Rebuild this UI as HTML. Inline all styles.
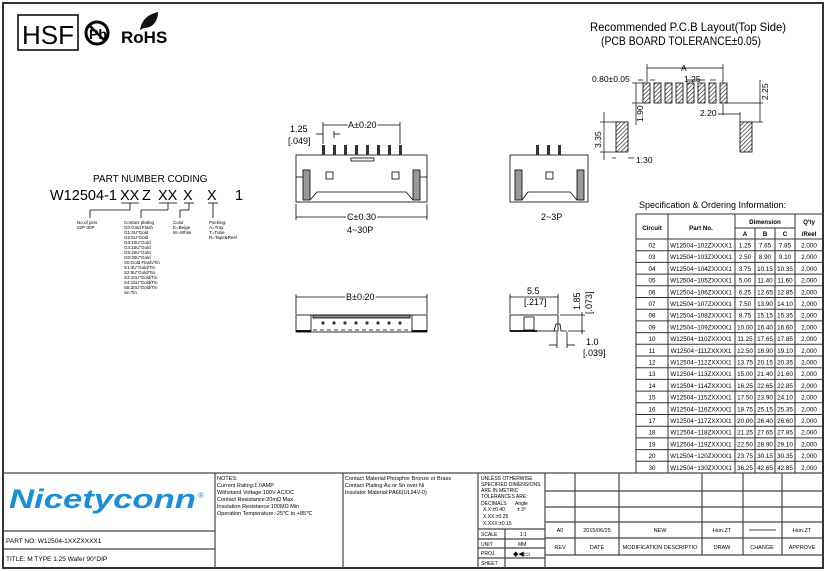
<!DOCTYPE html>
<html><head><meta charset="utf-8"><style>
html,body{margin:0;padding:0;background:#fff}
svg{display:block}
text{font-family:"Liberation Sans",sans-serif;fill:#000}
.s{font-size:6px}
.t{font-size:7px}
.m{font-family:"Liberation Serif",serif;font-size:6px}
</style></head><body>
<svg width="826" height="571" viewBox="0 0 826 571" xmlns="http://www.w3.org/2000/svg">
<defs><pattern id="h" width="3" height="3" patternUnits="userSpaceOnUse" patternTransform="rotate(45)"><rect width="3" height="3" fill="#fff"/><line x1="0" y1="0" x2="0" y2="3" stroke="#222" stroke-width="1.3"/></pattern></defs>
<rect x="3" y="3" width="820" height="565" fill="none" stroke="#333" stroke-width="2"/>
<!-- logos -->
<rect x="18" y="15" width="60" height="35" fill="none" stroke="#000" stroke-width="1.5"/>
<text x="22" y="44" style="font-size:26px">HSF</text>
<circle cx="97" cy="33" r="11" fill="none" stroke="#000" stroke-width="3"/>
<text x="89" y="39" style="font-size:14px;font-weight:bold">Pb</text>
<line x1="89" y1="25" x2="105" y2="41" stroke="#000" stroke-width="2.5"/>
<text x="121" y="43" style="font-size:17px;font-weight:bold">RoHS</text>
<path d="M140 30 C142 18,150 14,158 12 C158 22,152 28,144 28 Z" fill="#111"/>
<!-- PCB layout -->
<text x="590" y="31" style="font-size:12px" textLength="196" lengthAdjust="spacingAndGlyphs">Recommended P.C.B Layout(Top Side)</text>
<text x="601" y="45" style="font-size:12px" textLength="160" lengthAdjust="spacingAndGlyphs">(PCB BOARD TOLERANCE±0.05)</text>
<g fill="url(#h)" stroke="#000" stroke-width="0.8">
<rect x="643" y="83" width="7" height="20"/><rect x="654" y="83" width="7" height="20"/><rect x="665" y="83" width="7" height="20"/><rect x="676" y="83" width="7" height="20"/><rect x="687" y="83" width="7" height="20"/><rect x="698" y="83" width="7" height="20"/><rect x="709" y="83" width="7" height="20"/><rect x="720" y="83" width="7" height="20"/>
<rect x="616" y="122" width="12" height="30"/><rect x="740" y="122" width="12" height="30"/>
</g>
<g stroke="#000" stroke-width="0.7" fill="none">
<line x1="647" y1="68" x2="723" y2="68"/><line x1="647" y1="64" x2="647" y2="82"/><line x1="723" y1="64" x2="723" y2="82"/>
<line x1="638" y1="80" x2="643" y2="80"/><line x1="650" y1="80" x2="655" y2="80"/>
<line x1="686" y1="80" x2="705" y2="80"/><line x1="716" y1="80" x2="710" y2="80"/>
<line x1="727" y1="103" x2="763" y2="103"/><line x1="752" y1="122" x2="763" y2="122"/><line x1="760" y1="80" x2="760" y2="122"/>
<line x1="632" y1="83" x2="643" y2="83"/><line x1="632" y1="103" x2="643" y2="103"/><line x1="636" y1="83" x2="636" y2="125"/>
<line x1="723" y1="104" x2="723" y2="115"/><line x1="740" y1="112" x2="740" y2="122"/><line x1="718" y1="114" x2="740" y2="114"/>
<line x1="600" y1="122" x2="616" y2="122"/><line x1="600" y1="152" x2="616" y2="152"/><line x1="604" y1="112" x2="604" y2="160"/>
<line x1="612" y1="158" x2="616" y2="158"/><line x1="628" y1="158" x2="634" y2="158"/>
</g>
<text x="592" y="82" style="font-size:8.5px">0.80±0.05</text>
<text x="684" y="82" style="font-size:8.5px">1.25</text>
<text x="681" y="71" style="font-size:8.5px">A</text>
<text x="700" y="116" style="font-size:8.5px">2.20</text>
<text x="636" y="163" style="font-size:8.5px">1.30</text>
<text transform="translate(768,100) rotate(-90)" style="font-size:8.5px">2.25</text>
<text transform="translate(643,122) rotate(-90)" style="font-size:8.5px">1.90</text>
<text transform="translate(601,148) rotate(-90)" style="font-size:8.5px">3.35</text>
<!-- Part number coding -->
<text x="93" y="182" style="font-size:10px">PART NUMBER CODING</text>
<g style="font-size:14.5px">
<text x="50" y="200">W12504-1</text><text x="120" y="200">XX</text><text x="142" y="200">Z</text><text x="158" y="200">XX</text><text x="183" y="200">X</text><text x="207" y="200">X</text><text x="235" y="200">1</text>
</g>
<g stroke="#000" stroke-width="0.8" fill="none">
<line x1="121" y1="203" x2="139" y2="203"/><line x1="130" y1="203" x2="130" y2="210"/><line x1="130" y1="210" x2="90" y2="210"/><line x1="90" y1="210" x2="90" y2="218"/>
<line x1="159" y1="203" x2="177" y2="203"/><line x1="168" y1="203" x2="168" y2="210"/><line x1="168" y1="210" x2="141" y2="210"/><line x1="141" y1="210" x2="141" y2="218"/>
<line x1="184" y1="203" x2="194" y2="203"/><line x1="189" y1="203" x2="189" y2="210"/><line x1="189" y1="210" x2="180" y2="210"/><line x1="180" y1="210" x2="180" y2="218"/>
<line x1="208" y1="203" x2="218" y2="203"/><line x1="213" y1="203" x2="213" y2="218"/>
</g>
<g class="s" style="font-size:4.5px">
<text x="77" y="224">No.of pins</text><text x="77" y="229">02P-30P</text>
<text x="124" y="224">Contact plating</text><text x="124" y="229">G0:Gold Flash</text><text x="124" y="234">G1:3U"Gold</text><text x="124" y="239">G2:5U"Gold</text><text x="124" y="244">G3:10U"Gold</text><text x="124" y="249">G4:15U"Gold</text><text x="124" y="254">G5:20U"Gold</text><text x="124" y="259">G6:30U"Gold</text><text x="124" y="264">S0:Gold Flash/Tin</text><text x="124" y="269">S1:3U"Gold/Tin</text><text x="124" y="274">S2:5U"Gold/Tin</text><text x="124" y="279">S3:10U"Gold/Tin</text><text x="124" y="284">S4:15U"Gold/Tin</text><text x="124" y="289">S6:30U"Gold/Tin</text><text x="124" y="294">Sn:Tin</text>
<text x="173" y="224">Color</text><text x="173" y="229">E=Beige</text><text x="173" y="234">W=White</text>
<text x="209" y="224">Packing:</text><text x="209" y="229">A=Tray</text><text x="209" y="234">T=Tube</text><text x="209" y="239">R=Tape&amp;Reel</text>
</g>
<!-- front view 4~30P -->
<g stroke="#000" stroke-width="0.8" fill="none">
<rect x="296" y="155" width="131" height="47"/>
<line x1="296" y1="177" x2="306" y2="177"/><rect x="303" y="170" width="7" height="30" fill="#999"/>
<line x1="427" y1="177" x2="417" y2="177"/><rect x="413" y="170" width="7" height="30" fill="#999"/>
<path d="M310 200 L317 192 L406 192 L413 200"/>
<rect x="326" y="172" width="7" height="7"/><rect x="392" y="172" width="7" height="7"/>
<rect x="351" y="158" width="23" height="3"/>
<line x1="323" y1="122" x2="323" y2="144"/><line x1="400" y1="122" x2="400" y2="144"/><line x1="323" y1="125" x2="400" y2="125"/>
<line x1="316" y1="134" x2="323" y2="134"/><line x1="334" y1="134" x2="340" y2="134"/><line x1="334" y1="131" x2="334" y2="138"/>
<line x1="296" y1="204" x2="296" y2="220"/><line x1="427" y1="204" x2="427" y2="220"/><line x1="296" y1="217" x2="427" y2="217"/>
<rect x="510" y="155" width="78" height="47"/>
<rect x="515" y="170" width="7" height="30" fill="#999"/><rect x="577" y="170" width="7" height="30" fill="#999"/>
<path d="M522 200 L528 192 L570 192 L577 200"/><rect x="546" y="172" width="7" height="7"/>
<rect x="296" y="315" width="131" height="17"/>
<line x1="296" y1="294" x2="296" y2="314"/><line x1="427" y1="294" x2="427" y2="314"/><line x1="296" y1="297" x2="427" y2="297"/>
<line x1="311" y1="315" x2="311" y2="332"/><line x1="412" y1="315" x2="412" y2="332"/>
<rect x="313" y="315" width="97" height="3" fill="#888"/>
<line x1="313" y1="330" x2="410" y2="330" stroke-dasharray="4,3"/>
<line x1="296" y1="331" x2="311" y2="331" stroke-width="1.8"/><line x1="412" y1="331" x2="427" y2="331" stroke-width="1.8"/>
<rect x="510" y="315" width="48" height="16"/><rect x="524" y="317" width="10" height="13"/>
<line x1="510" y1="331" x2="537" y2="331" stroke-width="1.8"/>
<path d="M554 331 L556 324 L560 324 L561 331 L567 331"/>
<line x1="510" y1="294" x2="510" y2="314"/><line x1="558" y1="294" x2="558" y2="314"/><line x1="510" y1="297" x2="558" y2="297"/>
<line x1="560" y1="315" x2="585" y2="315"/><line x1="568" y1="331" x2="585" y2="331"/><line x1="582" y1="312" x2="582" y2="334"/>
<line x1="557" y1="332" x2="557" y2="348"/><line x1="567" y1="332" x2="567" y2="348"/><line x1="549" y1="345" x2="557" y2="345"/><line x1="567" y1="345" x2="575" y2="345"/>
</g>
<g fill="#333">
<rect x="322" y="145" width="3" height="10"/><rect x="333" y="145" width="3" height="10"/><rect x="344" y="145" width="3" height="10"/><rect x="355" y="145" width="3" height="10"/><rect x="366" y="145" width="3" height="10"/><rect x="377" y="145" width="3" height="10"/><rect x="388" y="145" width="3" height="10"/><rect x="399" y="145" width="3" height="10"/>
<rect x="536" y="145" width="3" height="10"/><rect x="547" y="145" width="3" height="10"/><rect x="558" y="145" width="3" height="10"/>
<circle cx="323" cy="323" r="1.6"/><circle cx="334" cy="323" r="1.6"/><circle cx="345" cy="323" r="1.6"/><circle cx="356" cy="323" r="1.6"/><circle cx="367" cy="323" r="1.6"/><circle cx="378" cy="323" r="1.6"/><circle cx="389" cy="323" r="1.6"/><circle cx="400" cy="323" r="1.6"/>
</g>
<g style="font-size:9px">
<text x="348" y="128" fill="#000" stroke="#fff" stroke-width="3" paint-order="stroke">A±0.20</text>
<text x="290" y="132">1.25</text><text x="288" y="144">[.049]</text>
<text x="347" y="220" stroke="#fff" stroke-width="3" paint-order="stroke">C±0.30</text>
<text x="347" y="233">4~30P</text>
<text x="541" y="220">2~3P</text>
<text x="346" y="300" stroke="#fff" stroke-width="3" paint-order="stroke">B±0.20</text>
<text x="527" y="294">5.5</text><text x="524" y="305">[.217]</text>
<text x="586" y="345">1.0</text><text x="583" y="356">[.039]</text>
<text transform="translate(580,310) rotate(-90)">1.85</text>
<text transform="translate(592,314) rotate(-90)">[.073]</text>
</g>
<!-- Spec table -->
<text x="639" y="208" style="font-size:9px">Specification &amp; Ordering Information:</text>
<g stroke="#333" stroke-width="1" fill="none">
<rect x="636" y="214" width="187" height="259"/>
<line x1="668" y1="214" x2="668" y2="473"/><line x1="735" y1="214" x2="735" y2="473"/>
<line x1="755" y1="228" x2="755" y2="473"/><line x1="775" y1="228" x2="775" y2="473"/>
<line x1="795" y1="214" x2="795" y2="473"/>
<line x1="735" y1="228" x2="795" y2="228"/><line x1="636" y1="239" x2="823" y2="239"/>
<line x1="636" y1="250.7" x2="823" y2="250.7"/><line x1="636" y1="262.4" x2="823" y2="262.4"/><line x1="636" y1="274.1" x2="823" y2="274.1"/><line x1="636" y1="285.8" x2="823" y2="285.8"/><line x1="636" y1="297.5" x2="823" y2="297.5"/><line x1="636" y1="309.2" x2="823" y2="309.2"/><line x1="636" y1="320.9" x2="823" y2="320.9"/><line x1="636" y1="332.6" x2="823" y2="332.6"/><line x1="636" y1="344.3" x2="823" y2="344.3"/><line x1="636" y1="356" x2="823" y2="356"/><line x1="636" y1="367.7" x2="823" y2="367.7"/><line x1="636" y1="379.4" x2="823" y2="379.4"/><line x1="636" y1="391.1" x2="823" y2="391.1"/><line x1="636" y1="402.8" x2="823" y2="402.8"/><line x1="636" y1="414.5" x2="823" y2="414.5"/><line x1="636" y1="426.2" x2="823" y2="426.2"/><line x1="636" y1="437.9" x2="823" y2="437.9"/><line x1="636" y1="449.6" x2="823" y2="449.6"/><line x1="636" y1="461.3" x2="823" y2="461.3"/>
</g>
<g class="s" style="font-size:6.2px;font-weight:bold" text-anchor="middle">
<text x="652" y="230">Circuit</text><text x="701" y="230">Part No.</text><text x="765" y="224">Dimension</text><text x="809" y="224">Q'ty</text><text x="809" y="236">/Reel</text>
<text x="745" y="236">A</text><text x="765" y="236">B</text><text x="785" y="236">C</text>
</g>
<g style="font-size:6.3px" text-anchor="middle">
<g transform="translate(0,247.5)"><text x="652">02</text><text x="701">W12504−102ZXXXX1</text><text x="745">1.25</text><text x="765">7.65</text><text x="785">7.85</text><text x="809">2,000</text></g>
<g transform="translate(0,259.2)"><text x="652">03</text><text x="701">W12504−103ZXXXX1</text><text x="745">2.50</text><text x="765">8.90</text><text x="785">9.10</text><text x="809">2,000</text></g>
<g transform="translate(0,270.9)"><text x="652">04</text><text x="701">W12504−104ZXXXX1</text><text x="745">3.75</text><text x="765">10.15</text><text x="785">10.35</text><text x="809">2,000</text></g>
<g transform="translate(0,282.6)"><text x="652">05</text><text x="701">W12504−105ZXXXX1</text><text x="745">5.00</text><text x="765">11.40</text><text x="785">11.60</text><text x="809">2,000</text></g>
<g transform="translate(0,294.3)"><text x="652">06</text><text x="701">W12504−106ZXXXX1</text><text x="745">6.25</text><text x="765">12.65</text><text x="785">12.85</text><text x="809">2,000</text></g>
<g transform="translate(0,306)"><text x="652">07</text><text x="701">W12504−107ZXXXX1</text><text x="745">7.50</text><text x="765">13.90</text><text x="785">14.10</text><text x="809">2,000</text></g>
<g transform="translate(0,317.7)"><text x="652">08</text><text x="701">W12504−108ZXXXX1</text><text x="745">8.75</text><text x="765">15.15</text><text x="785">15.35</text><text x="809">2,000</text></g>
<g transform="translate(0,329.4)"><text x="652">09</text><text x="701">W12504−109ZXXXX1</text><text x="745">10.00</text><text x="765">16.40</text><text x="785">16.60</text><text x="809">2,000</text></g>
<g transform="translate(0,341.1)"><text x="652">10</text><text x="701">W12504−110ZXXXX1</text><text x="745">11.25</text><text x="765">17.65</text><text x="785">17.85</text><text x="809">2,000</text></g>
<g transform="translate(0,352.8)"><text x="652">11</text><text x="701">W12504−111ZXXXX1</text><text x="745">12.50</text><text x="765">18.90</text><text x="785">19.10</text><text x="809">2,000</text></g>
<g transform="translate(0,364.5)"><text x="652">12</text><text x="701">W12504−112ZXXXX1</text><text x="745">13.75</text><text x="765">20.15</text><text x="785">20.35</text><text x="809">2,000</text></g>
<g transform="translate(0,376.2)"><text x="652">13</text><text x="701">W12504−113ZXXXX1</text><text x="745">15.00</text><text x="765">21.40</text><text x="785">21.60</text><text x="809">2,000</text></g>
<g transform="translate(0,387.9)"><text x="652">14</text><text x="701">W12504−114ZXXXX1</text><text x="745">16.25</text><text x="765">22.65</text><text x="785">22.85</text><text x="809">2,000</text></g>
<g transform="translate(0,399.6)"><text x="652">15</text><text x="701">W12504−115ZXXXX1</text><text x="745">17.50</text><text x="765">23.90</text><text x="785">24.10</text><text x="809">2,000</text></g>
<g transform="translate(0,411.3)"><text x="652">16</text><text x="701">W12504−116ZXXXX1</text><text x="745">18.75</text><text x="765">25.15</text><text x="785">25.35</text><text x="809">2,000</text></g>
<g transform="translate(0,423)"><text x="652">17</text><text x="701">W12504−117ZXXXX1</text><text x="745">20.00</text><text x="765">26.40</text><text x="785">26.60</text><text x="809">2,000</text></g>
<g transform="translate(0,434.7)"><text x="652">18</text><text x="701">W12504−118ZXXXX1</text><text x="745">21.25</text><text x="765">27.65</text><text x="785">27.85</text><text x="809">2,000</text></g>
<g transform="translate(0,446.4)"><text x="652">19</text><text x="701">W12504−119ZXXXX1</text><text x="745">22.50</text><text x="765">28.90</text><text x="785">29.10</text><text x="809">2,000</text></g>
<g transform="translate(0,458.1)"><text x="652">20</text><text x="701">W12504−120ZXXXX1</text><text x="745">23.75</text><text x="765">30.15</text><text x="785">30.35</text><text x="809">2,000</text></g>
<g transform="translate(0,469.8)"><text x="652">30</text><text x="701">W12504−130ZXXXX1</text><text x="745">36.25</text><text x="765">42.65</text><text x="785">42.85</text><text x="809">2,000</text></g>
</g>
<!-- title block -->
<g stroke="#444" stroke-width="1.2" fill="none">
<line x1="3" y1="473" x2="823" y2="473"/>
<line x1="215" y1="473" x2="215" y2="568"/><line x1="343" y1="473" x2="343" y2="568"/><line x1="478" y1="473" x2="478" y2="568"/><line x1="545" y1="473" x2="545" y2="568"/>
<line x1="3" y1="531" x2="215" y2="531"/><line x1="3" y1="549" x2="215" y2="549"/>
<line x1="478" y1="529" x2="545" y2="529"/><line x1="478" y1="539" x2="545" y2="539"/><line x1="478" y1="548" x2="545" y2="548"/><line x1="478" y1="558" x2="545" y2="558"/><line x1="505" y1="529" x2="505" y2="568"/>
<line x1="545" y1="491" x2="823" y2="491"/><line x1="545" y1="507" x2="823" y2="507"/><line x1="545" y1="522" x2="823" y2="522"/><line x1="545" y1="538" x2="823" y2="538"/><line x1="545" y1="555" x2="823" y2="555"/>
<line x1="575" y1="473" x2="575" y2="555"/><line x1="619" y1="473" x2="619" y2="555"/><line x1="702" y1="473" x2="702" y2="555"/><line x1="743" y1="473" x2="743" y2="555"/><line x1="782" y1="473" x2="782" y2="555"/>
</g>
<text x="9" y="508" style="font-size:27px;font-weight:bold;font-style:italic;fill:#1a8fd8" textLength="187" lengthAdjust="spacingAndGlyphs">Nicetyconn</text>
<text x="198" y="498" style="font-size:8px;fill:#1a8fd8">®</text>
<text x="6" y="543" style="font-size:6.5px">PART NO:  W12504-1XXZXXXX1</text>
<text x="6" y="561" style="font-size:6.5px">TITLE:   M TYPE 1.25 Wafer 90°DIP</text>
<g class="m" style="font-size:5.5px">
<text x="217" y="480">NOTES:</text><text x="217" y="487">Current Rating:1.0AMP</text><text x="217" y="494">Withstand Voltage:100V AC/DC</text><text x="217" y="501">Contact Resistance:20mΩ Max</text><text x="217" y="508">Insulation Resistance:100MΩ Min</text><text x="217" y="515">Operation Temperature:-25℃ to +85℃</text>
<text x="345" y="480">Contact Material:Phosphor Bronze or Brass</text><text x="345" y="487">Contact Plating:Au or Sn over Ni</text><text x="345" y="494">Insulator Material:PA66(UL94V-0)</text>
</g>
<g style="font-size:5px">
<text x="481" y="480">UNLESS OTHERWISE</text><text x="481" y="486">SPECIFIED DIMENSIONS</text><text x="481" y="492">ARE IN METRIC</text><text x="481" y="498">TOLERANCES  ARE:</text><text x="481" y="505">DECIMALS</text><text x="515" y="505">Angle</text><text x="483" y="511">X.X:±0.40</text><text x="517" y="511">± 3°</text><text x="483" y="518">X.XX:±0.25</text><text x="483" y="525">X.XXX:±0.15</text>
<text x="481" y="536">SCALE</text><text x="520" y="536">1:1</text><text x="481" y="546">UNIT</text><text x="518" y="546">MM</text><text x="481" y="555">PROJ.</text><text x="481" y="565">SHEET</text>
</g>
<text x="513" y="556" style="font-size:7px">◆◀▭</text>
<g style="font-size:5.5px" text-anchor="middle">
<text x="560" y="532">A0</text><text x="597" y="532">2015/06/25</text><text x="660" y="532">NEW</text><text x="722" y="532">Hun.ZT</text><text x="802" y="532">Hun.ZT</text>
<text x="560" y="549">REV</text><text x="597" y="549">DATE</text><text x="660" y="549">MODIFICATION DESCRIPTIO</text><text x="722" y="549">DRAW</text><text x="762" y="549">CHANGE</text><text x="802" y="549">APPROVE</text>
</g>
<line x1="749" y1="530" x2="776" y2="530" stroke="#000" stroke-width="0.8"/>
</svg>
</body></html>
